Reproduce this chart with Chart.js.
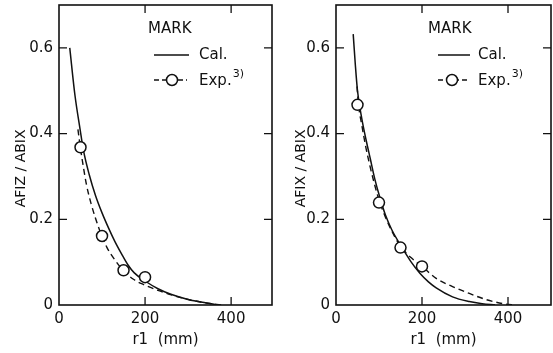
<!DOCTYPE html>
<html><head><meta charset="utf-8">
<script src="https://cdn.jsdelivr.net/npm/chart.js@4.4.1/dist/chart.umd.min.js"></script>
<style>
html,body{margin:0;padding:0;background:#fff;}
#wrap{position:relative;width:553px;height:353px;overflow:hidden;}
#c1{position:absolute;left:0;top:0;}
#c2{position:absolute;left:276px;top:0;}
</style></head><body>
<div id="wrap"><canvas id="c1" width="276" height="353"></canvas><canvas id="c2" width="277" height="353"></canvas></div>
<script>
// ---- tick labels ----
const xTicks = [0, 200, 400];
const yTicks = [0, 0.2, 0.4, 0.6];
const yTickLabels = ['0', '0.2', '0.4', '0.6'];

// ---- left panel (AFIZ/ABIX) ----
const leftCalR = [25, 37, 49, 57, 70, 85, 100, 115, 130, 145, 160, 175, 200, 230, 260, 300, 340, 370];
const leftCalV = [0.60, 0.49, 0.41, 0.36, 0.305, 0.255, 0.215, 0.18, 0.148, 0.12, 0.094, 0.075, 0.056, 0.038, 0.025, 0.013, 0.005, 0];
const leftExpCurveR = [44, 50, 57, 64, 75, 84, 98, 111, 130, 148, 173, 198, 230, 266, 300, 340, 380];
const leftExpCurveV = [0.41, 0.365, 0.32, 0.28, 0.235, 0.205, 0.165, 0.135, 0.105, 0.082, 0.06, 0.047, 0.034, 0.022, 0.013, 0.005, 0];
const leftExpR = [50, 100, 150, 200];
const leftExpV = [0.368, 0.161, 0.081, 0.065];

// ---- right panel (AFIX/ABIX) ----
const rightCalR = [40, 45, 50, 60, 70, 80, 90, 100, 115, 130, 153, 175, 195, 215, 233, 271, 310, 340, 370];
const rightCalV = [0.632, 0.56, 0.50, 0.435, 0.385, 0.34, 0.295, 0.258, 0.21, 0.175, 0.135, 0.10, 0.074, 0.054, 0.04, 0.019, 0.008, 0.003, 0];
const rightExpCurveR = [49, 52, 60, 70, 80, 90, 100, 115, 130, 150, 175, 200, 233, 271, 310, 348, 395, 415];
const rightExpCurveV = [0.51, 0.47, 0.42, 0.365, 0.32, 0.28, 0.245, 0.205, 0.172, 0.137, 0.11, 0.09, 0.062, 0.043, 0.027, 0.013, 0.002, 0];
const rightExpR = [50, 100, 150, 200];
const rightExpV = [0.467, 0.239, 0.134, 0.090];

const FONT = "'DejaVu Sans', sans-serif";
const INK = '#111';

function pts(r, v) { return r.map((x, i) => ({x: x, y: v[i]})); }

const framePlugin = {
  id: 'frame',
  afterDatasetsDraw(chart, args, o) {
    const {ctx, chartArea: a, scales: {x, y}} = chart;
    ctx.save();
    ctx.strokeStyle = INK;
    ctx.lineWidth = 1.6;
    ctx.strokeRect(a.left, a.top, a.right - a.left, a.bottom - a.top);
    ctx.lineWidth = 1.3;
    ctx.beginPath();
    yTicks.forEach(v => {
      if (v === 0) return;
      const py = y.getPixelForValue(v);
      ctx.moveTo(a.left, py); ctx.lineTo(a.left + 8, py);
      ctx.moveTo(a.right, py); ctx.lineTo(a.right - 8, py);
    });
    xTicks.forEach(v => {
      if (v === 0) return;
      const px = x.getPixelForValue(v);
      ctx.moveTo(px, a.bottom); ctx.lineTo(px, a.bottom - 8);
      ctx.moveTo(px, a.top); ctx.lineTo(px, a.top + 8);
    });
    ctx.stroke();
    // legend
    const L = a.left;
    ctx.fillStyle = INK;
    ctx.textBaseline = 'middle';
    ctx.textAlign = 'left';
    ctx.font = '15px ' + FONT;
    ctx.fillText('MARK', L + o.mark, 29);
    ctx.lineWidth = 1.5;
    ctx.setLineDash([]);
    ctx.beginPath();
    ctx.moveTo(L + o.l0, 55); ctx.lineTo(L + o.l1, 55);
    ctx.stroke();
    ctx.fillText('Cal.', L + o.text, 55);
    ctx.setLineDash([5, 3]);
    ctx.beginPath();
    ctx.moveTo(L + o.l0, 80); ctx.lineTo(L + o.l1 - 2, 80);
    ctx.stroke();
    ctx.setLineDash([]);
    ctx.beginPath();
    ctx.arc(L + o.circ, 80, 5.5, 0, Math.PI * 2);
    ctx.fillStyle = '#fff';
    ctx.fill();
    ctx.stroke();
    ctx.fillStyle = INK;
    ctx.fillText('Exp.', L + o.text, 81);
    const w = ctx.measureText('Exp.').width;
    ctx.font = '11px ' + FONT;
    ctx.fillText('3)', L + o.text + w + 1, 74);
    ctx.restore();
  }
};

function makeChart(id, opts) {
  return new Chart(document.getElementById(id), {
    type: 'line',
    data: {
      datasets: [
        {
          label: 'Exp. points',
          data: pts(opts.expR, opts.expV),
          showLine: false,
          pointRadius: 5.5,
          pointBackgroundColor: '#fff',
          pointBorderColor: INK,
          pointBorderWidth: 1.5
        },
        {
          label: 'Cal.',
          data: pts(opts.calR, opts.calV),
          borderColor: INK,
          borderWidth: 1.5,
          pointRadius: 0,
          cubicInterpolationMode: 'monotone'
        },
        {
          label: 'Exp.',
          data: pts(opts.curveR, opts.curveV),
          borderColor: INK,
          borderWidth: 1.4,
          borderDash: [6, 4],
          pointRadius: 0,
          cubicInterpolationMode: 'monotone'
        }
      ]
    },
    options: {
      responsive: false,
      animation: false,
      layout: {autoPadding: false, padding: {top: 5, right: opts.padRight, left: 0, bottom: 0}},
      plugins: {legend: {display: false}, tooltip: {enabled: false}, frame: opts.legend},
      scales: {
        x: {
          type: 'linear', min: 0, max: opts.xMax,
          afterBuildTicks: s => { s.ticks = xTicks.map(v => ({value: v})); },
          afterFit: s => { s.height = 48; s.paddingLeft = 0; s.paddingRight = 0; },
          grid: {display: false, drawTicks: false},
          border: {display: false},
          ticks: {color: INK, font: {family: FONT, size: 15}, padding: 5, maxRotation: 0, callback: v => String(v)},
          title: {display: true, text: 'r1  (mm)', color: INK, font: {family: FONT, size: 15}, padding: {top: 0, bottom: 4}}
        },
        y: {
          type: 'linear', min: 0, max: 0.7,
          afterBuildTicks: s => { s.ticks = yTicks.map(v => ({value: v})); },
          afterFit: s => { s.width = opts.yWidth; s.paddingTop = 0; s.paddingBottom = 0; },
          grid: {display: false, drawTicks: false},
          border: {display: false},
          ticks: {color: INK, font: {family: FONT, size: 15}, padding: 6,
            callback: v => { const i = yTicks.indexOf(v); return i >= 0 ? yTickLabels[i] : ''; }},
          title: {display: true, text: opts.yTitle + '      ', color: INK, font: {family: FONT, size: 14}, padding: {top: opts.yTitlePad, bottom: 0}}
        }
      }
    },
    plugins: [framePlugin]
  });
}

makeChart('c1', {
  calR: leftCalR, calV: leftCalV, curveR: leftExpCurveR, curveV: leftExpCurveV,
  expR: leftExpR, expV: leftExpV, xMax: 495, padRight: 4, yWidth: 59, yTitlePad: 13,
  yTitle: 'AFIZ / ABIX',
  legend: {mark: 89, l0: 95, l1: 130, text: 140, circ: 113}
});
makeChart('c2', {
  calR: rightCalR, calV: rightCalV, curveR: rightExpCurveR, curveV: rightExpCurveV,
  expR: rightExpR, expV: rightExpV, xMax: 500, padRight: 2, yWidth: 60, yTitlePad: 17,
  yTitle: 'AFIX / ABIX',
  legend: {mark: 92, l0: 102, l1: 134, text: 142, circ: 116}
});
</script>
</body></html>
